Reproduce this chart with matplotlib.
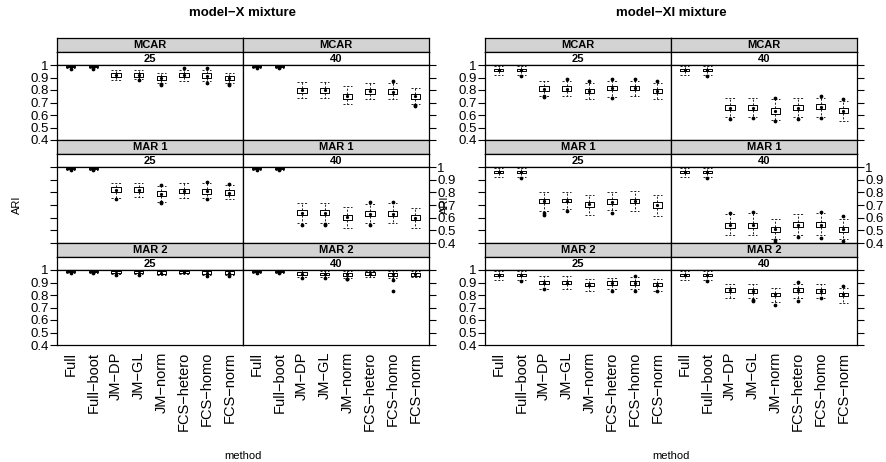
import matplotlib
matplotlib.use("Agg")
import matplotlib.pyplot as plt

plt.rcParams['font.family'] = ['Liberation Sans', 'DejaVu Sans']

methods = ["Full", "Full\u2212boot", "JM\u2212DP", "JM\u2212GL", "JM\u2212norm",
           "FCS\u2212hetero", "FCS\u2212homo", "FCS\u2212norm"]
mechanisms = ["MCAR", "MAR 1", "MAR 2"]
percents = ["25", "40"]
models = ["model\u2212X mixture", "model\u2212XI mixture"]
yticks = [0.4, 0.5, 0.6, 0.7, 0.8, 0.9, 1.0]
ytick_labels = ["0.4", "0.5", "0.6", "0.7", "0.8", "0.9", "1"]

# each row: (whisker low, q1, median, q3, whisker high), one per method
X_MCAR_25 = [(0.975, 0.985, 0.99, 0.995, 1.0), (0.975, 0.985, 0.99, 0.995, 1.0),
             (0.88, 0.905, 0.92, 0.935, 0.96), (0.885, 0.905, 0.92, 0.935, 0.96),
             (0.855, 0.88, 0.895, 0.915, 0.94), (0.87, 0.905, 0.92, 0.935, 0.96),
             (0.87, 0.90, 0.915, 0.935, 0.96), (0.855, 0.88, 0.895, 0.91, 0.935)]
X_MCAR_25_OUT = [[0.97], [0.97], [], [0.88], [0.845, 0.84], [0.975], [0.975, 0.855], [0.845, 0.84]]
X_MCAR_40 = [(0.975, 0.985, 0.99, 0.995, 1.0), (0.975, 0.985, 0.99, 0.995, 1.0),
             (0.735, 0.78, 0.80, 0.82, 0.865), (0.735, 0.78, 0.80, 0.82, 0.865),
             (0.685, 0.73, 0.75, 0.77, 0.83), (0.73, 0.77, 0.79, 0.81, 0.86),
             (0.73, 0.765, 0.785, 0.81, 0.86), (0.69, 0.73, 0.75, 0.77, 0.82)]
X_MCAR_40_OUT = [[0.975], [0.975], [], [], [], [], [0.87], [0.675, 0.68]]
X_MAR1_25 = [(0.975, 0.985, 0.99, 0.995, 1.0), (0.975, 0.985, 0.99, 0.995, 1.0),
             (0.755, 0.80, 0.82, 0.84, 0.875), (0.76, 0.80, 0.82, 0.84, 0.87),
             (0.725, 0.775, 0.79, 0.81, 0.85), (0.755, 0.795, 0.81, 0.83, 0.87),
             (0.755, 0.79, 0.81, 0.83, 0.87), (0.745, 0.78, 0.795, 0.815, 0.86)]
X_MAR1_25_OUT = [[0.975], [0.975], [0.745], [], [0.86, 0.715, 0.72], [], [0.885, 0.745], [0.865]]
X_MAR1_40 = [(0.975, 0.985, 0.99, 0.995, 1.0), (0.975, 0.985, 0.99, 0.995, 1.0),
             (0.555, 0.62, 0.64, 0.66, 0.715), (0.555, 0.62, 0.64, 0.66, 0.715),
             (0.52, 0.585, 0.605, 0.625, 0.685), (0.555, 0.61, 0.63, 0.655, 0.71),
             (0.56, 0.61, 0.63, 0.65, 0.715), (0.52, 0.585, 0.60, 0.62, 0.68)]
X_MAR1_40_OUT = [[0.975], [0.975], [0.545], [0.545, 0.55], [], [0.725, 0.545], [0.725], []]
X_MAR2_25 = [(0.98, 0.985, 0.99, 0.995, 1.0), (0.98, 0.985, 0.99, 0.995, 1.0),
             (0.965, 0.975, 0.98, 0.99, 1.0), (0.965, 0.975, 0.98, 0.99, 1.0),
             (0.96, 0.97, 0.98, 0.99, 1.0), (0.965, 0.975, 0.985, 0.99, 1.0),
             (0.96, 0.97, 0.98, 0.99, 1.0), (0.96, 0.97, 0.98, 0.99, 1.0)]
X_MAR2_25_OUT = [[0.975], [0.975], [0.96], [0.96], [], [], [0.955], [0.955]]
X_MAR2_40 = [(0.98, 0.985, 0.99, 0.995, 1.0), (0.98, 0.985, 0.99, 0.995, 1.0),
             (0.945, 0.96, 0.97, 0.985, 1.0), (0.945, 0.96, 0.97, 0.98, 0.995),
             (0.935, 0.955, 0.965, 0.98, 0.995), (0.945, 0.96, 0.97, 0.985, 0.995),
             (0.935, 0.955, 0.965, 0.98, 0.995), (0.945, 0.955, 0.965, 0.975, 0.99)]
X_MAR2_40_OUT = [[0.975], [0.975], [0.94], [0.94], [0.925, 0.93], [], [0.92, 0.83], []]

XI_MCAR_25 = [(0.92, 0.95, 0.96, 0.97, 0.99), (0.92, 0.95, 0.96, 0.97, 0.99),
              (0.75, 0.795, 0.81, 0.83, 0.87), (0.75, 0.795, 0.81, 0.83, 0.87),
              (0.725, 0.78, 0.795, 0.81, 0.86), (0.745, 0.80, 0.815, 0.83, 0.875),
              (0.75, 0.80, 0.815, 0.83, 0.875), (0.725, 0.775, 0.795, 0.81, 0.86)]
XI_MCAR_25_OUT = [[], [0.915], [0.745, 0.755], [0.885], [0.875], [0.885, 0.735], [0.885], [0.87]]
XI_MCAR_40 = [(0.92, 0.95, 0.96, 0.97, 0.99), (0.92, 0.95, 0.96, 0.97, 0.99),
              (0.585, 0.64, 0.66, 0.68, 0.735), (0.585, 0.64, 0.66, 0.68, 0.735),
              (0.56, 0.61, 0.63, 0.655, 0.725), (0.585, 0.64, 0.66, 0.68, 0.735),
              (0.585, 0.645, 0.665, 0.685, 0.74), (0.555, 0.615, 0.635, 0.655, 0.71)]
XI_MCAR_40_OUT = [[], [0.915], [0.57], [0.575], [0.74, 0.55], [0.57], [0.755, 0.58], [0.725]]
XI_MAR1_25 = [(0.92, 0.95, 0.96, 0.97, 0.99), (0.92, 0.95, 0.96, 0.97, 0.99),
              (0.655, 0.715, 0.735, 0.75, 0.805), (0.665, 0.72, 0.735, 0.75, 0.805),
              (0.625, 0.685, 0.705, 0.72, 0.78), (0.66, 0.71, 0.725, 0.745, 0.80),
              (0.655, 0.715, 0.73, 0.75, 0.81), (0.61, 0.68, 0.70, 0.72, 0.78)]
XI_MAR1_25_OUT = [[], [0.915], [0.635, 0.625], [0.655], [], [0.64], [], []]
XI_MAR1_40 = [(0.92, 0.95, 0.96, 0.97, 0.99), (0.92, 0.95, 0.96, 0.97, 0.99),
              (0.465, 0.52, 0.54, 0.56, 0.63), (0.465, 0.52, 0.54, 0.56, 0.635),
              (0.43, 0.49, 0.51, 0.53, 0.59), (0.465, 0.525, 0.545, 0.565, 0.63),
              (0.465, 0.525, 0.545, 0.565, 0.635), (0.43, 0.49, 0.51, 0.53, 0.59)]
XI_MAR1_40_OUT = [[], [0.915], [0.64], [0.645], [0.42, 0.41], [0.45], [0.645, 0.44], [0.61, 0.415]]
XI_MAR2_25 = [(0.92, 0.95, 0.96, 0.97, 0.99), (0.92, 0.95, 0.96, 0.97, 0.99),
              (0.85, 0.89, 0.90, 0.915, 0.95), (0.85, 0.89, 0.90, 0.915, 0.95),
              (0.83, 0.87, 0.88, 0.895, 0.93), (0.845, 0.88, 0.895, 0.91, 0.94),
              (0.845, 0.88, 0.895, 0.91, 0.945), (0.835, 0.87, 0.88, 0.895, 0.93)]
XI_MAR2_25_OUT = [[], [0.915], [0.845], [], [], [0.835], [0.955, 0.835], [0.83]]
XI_MAR2_40 = [(0.92, 0.95, 0.96, 0.97, 0.99), (0.92, 0.95, 0.96, 0.97, 0.99),
              (0.78, 0.825, 0.84, 0.855, 0.89), (0.78, 0.82, 0.835, 0.85, 0.885),
              (0.745, 0.79, 0.805, 0.82, 0.86), (0.78, 0.825, 0.84, 0.855, 0.89),
              (0.78, 0.82, 0.835, 0.85, 0.89), (0.74, 0.79, 0.805, 0.82, 0.86)]
XI_MAR2_40_OUT = [[], [0.915], [], [0.76, 0.75], [0.72], [0.905, 0.75], [0.775], [0.875]]

panels = {
    0: [[(X_MCAR_25, X_MCAR_25_OUT), (X_MCAR_40, X_MCAR_40_OUT)],
        [(X_MAR1_25, X_MAR1_25_OUT), (X_MAR1_40, X_MAR1_40_OUT)],
        [(X_MAR2_25, X_MAR2_25_OUT), (X_MAR2_40, X_MAR2_40_OUT)]],
    1: [[(XI_MCAR_25, XI_MCAR_25_OUT), (XI_MCAR_40, XI_MCAR_40_OUT)],
        [(XI_MAR1_25, XI_MAR1_25_OUT), (XI_MAR1_40, XI_MAR1_40_OUT)],
        [(XI_MAR2_25, XI_MAR2_25_OUT), (XI_MAR2_40, XI_MAR2_40_OUT)]],
}

W, H = 887, 462
fig = plt.figure(figsize=(W / 100, H / 100), dpi=100)


def px_axes(x0, y0, x1, y1):
    return fig.add_axes([x0 / W, 1 - y1 / H, (x1 - x0) / W, (y1 - y0) / H])


block_x = [[57, 243, 429], [485, 671, 857]]
# strip top, strip middle, panel top, panel bottom (pixels from top)
row_y = [(38, 51.5, 65, 140), (140, 153.5, 167, 243), (243, 256.5, 270, 345)]

for b in range(2):
    xs = block_x[b]
    fig.text((xs[0] + xs[2]) / 2 / W, 1 - 13 / H, models[b], ha='center', va='center',
             fontsize=9.5, fontweight='bold')
    fig.text((xs[0] - 40) / W, 1 - 205 / H, "ARI", rotation=90, ha='center', va='center', fontsize=8)
    fig.text((xs[0] + xs[2]) / 2 / W, 1 - 456 / H, "method", ha='center', va='center', fontsize=8)

    for r in range(3):
        st, sm, pt, pb = row_y[r]
        for c in range(2):
            x0, x1 = xs[c], xs[c + 1]
            # strips
            for (ya, yb, txt, fc) in [(st, sm, mechanisms[r], '#d3d3d3'), (sm, pt, percents[c], 'white')]:
                sax = px_axes(x0, ya, x1, yb)
                sax.set_facecolor(fc)
                sax.set_xticks([])
                sax.set_yticks([])
                for sp in sax.spines.values():
                    sp.set_linewidth(0.9)
                sax.text(0.5, 0.45, txt, transform=sax.transAxes, ha='center', va='center',
                         fontsize=8, fontweight='bold')

            ax = px_axes(x0, pt, x1, pb)
            data, outs = panels[b][r][c]
            stats = []
            for m in range(len(methods)):
                lo, q1, med, q3, hi = data[m]
                stats.append(dict(whislo=lo, q1=q1, med=med, q3=q3, whishi=hi, fliers=outs[m]))
            pos = list(range(1, len(methods) + 1))
            dash = dict(color='black', linewidth=0.6, linestyle=(0, (2.5, 2)))
            ax.bxp(stats, positions=pos, widths=0.4, capwidths=0.4, showfliers=True,
                   boxprops=dict(color='black', linewidth=0.7),
                   whiskerprops=dash, capprops=dash,
                   medianprops=dict(linestyle='none'),
                   flierprops=dict(marker='o', markersize=1.7, markerfacecolor='black',
                                   markeredgecolor='black', linestyle='none'))
            ax.plot(pos, [d[2] for d in data], 'o', color='black', markersize=1.3)

            ax.set_xlim(0.4, 8.6)
            ax.set_ylim(0.4, 1.0)
            for sp in ax.spines.values():
                sp.set_linewidth(0.9)
            ax.set_yticks(yticks)
            ax.set_yticklabels(ytick_labels)
            left_side = (c == 0)
            labels_here = (r != 1 and c == 0) or (r == 1 and c == 1)
            ax.tick_params(axis='y', direction='out', length=5, width=0.8, labelsize=9.5, pad=1,
                           left=left_side, right=not left_side,
                           labelleft=labels_here and left_side,
                           labelright=labels_here and not left_side)
            if r == 2:
                ax.set_xticks(pos)
                ax.set_xticklabels(methods, rotation=90, fontsize=10.5)
                ax.tick_params(axis='x', length=0, pad=5)
            else:
                ax.set_xticks([])

fig.savefig("out.png", dpi=100)
